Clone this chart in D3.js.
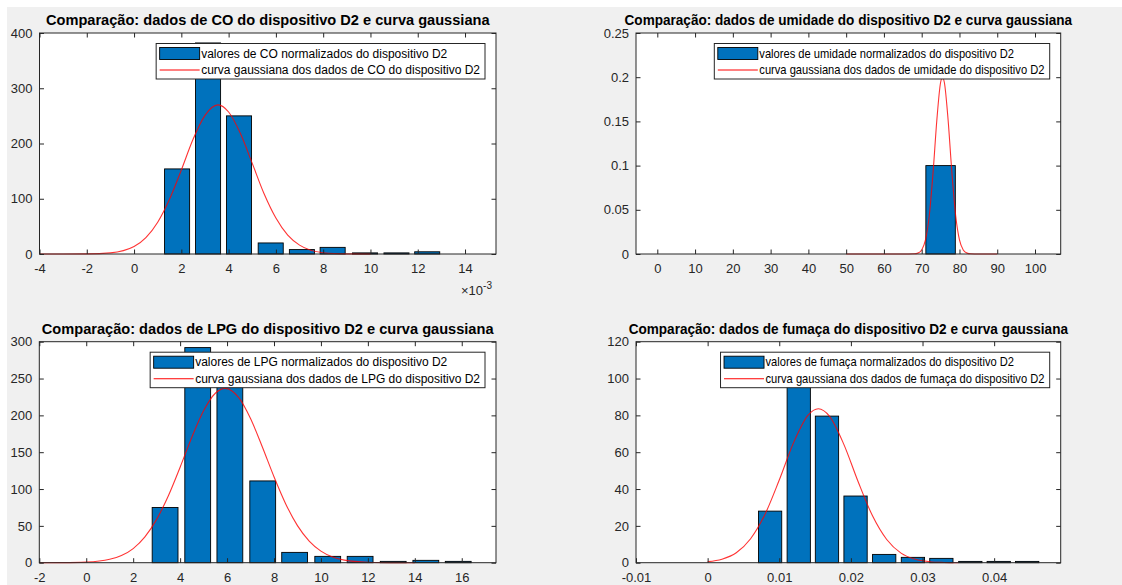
<!DOCTYPE html>
<html>
<head>
<meta charset="utf-8">
<script src="https://cdn.jsdelivr.net/npm/d3@7"></script>
<style>
  body { margin: 0; background: #fff; }
  svg { display: block; font-family: "Liberation Sans", Arial, Helvetica, sans-serif; }
</style>
</head>
<body>
<svg id="chart" width="1122" height="585"></svg>
<script>
// ---- data ----
// CO (x values in units of 1e-3)
const coBins = [1.82, 3.13, 4.44, 5.78, 7.1, 8.4, 9.77, 11.1, 12.4]
const coCounts = [154, 382, 250, 20, 8, 12, 2, 2, 4]
const coCurveX = [-4, -3, -2, -1, 0, 0.5, 1, 1.5, 2, 2.5, 3, 3.55, 4, 4.5, 5, 5.5, 6, 6.5, 7, 8, 9, 10]
const coCurveY = [0, 0, 0.2, 2, 13.4, 29.5, 57.5, 99, 152, 208, 251, 270, 257, 218, 164, 109, 65, 34, 16, 2.4, 0.3, 0]
const coBarWidth = 1.06
const coXTicks = [-4, -2, 0, 2, 4, 6, 8, 10, 12, 14]
const coYTicks = [0, 100, 200, 300, 400]

// umidade
const humBins = [75]
const humCounts = [0.1]
const humCurveX = [50, 60, 65, 68, 69, 70, 71, 72, 73, 74, 75, 75.5, 76, 77, 78, 79, 80, 81, 82, 83, 85, 90]
const humCurveY = [0, 0, 0, 0.0002, 0.001, 0.0046, 0.0159, 0.0433, 0.0916, 0.151, 0.194, 0.2, 0.194, 0.151, 0.0916, 0.0433, 0.0159, 0.0046, 0.001, 0.0002, 0, 0]
const humBarWidth = 7.8
const humXTicks = [0, 10, 20, 30, 40, 50, 60, 70, 80, 90, 100]
const humYTicks = [0, 0.05, 0.1, 0.15, 0.2, 0.25]

// LPG
const lpgBins = [3.36, 4.75, 6.12, 7.52, 8.88, 10.29, 11.67, 13.08, 14.47, 15.85]
const lpgCounts = [75, 292, 262, 111, 14, 8.6, 8.6, 1.8, 3.2, 1.8]
const lpgCurveX = [-2, -1, 0, 1, 1.5, 2, 2.5, 3, 3.5, 4, 4.5, 5, 5.5, 5.92, 6.5, 7, 7.5, 8, 8.5, 9, 9.5, 10, 10.5, 11, 12, 13, 14]
const lpgCurveY = [0, 0.1, 0.8, 4.6, 9.7, 19.2, 35, 58.8, 90.9, 129.6, 170.4, 206.2, 230, 236.7, 224, 195.7, 157.4, 116.7, 79.8, 50.3, 29.3, 15.7, 7.7, 3.5, 0.6, 0.1, 0]
const lpgBarWidth = 1.1
const lpgXTicks = [-2, 0, 2, 4, 6, 8, 10, 12, 14, 16]
const lpgYTicks = [0, 50, 100, 150, 200, 250, 300]

// fumaça
const fumBins = [0.00872, 0.01272, 0.01666, 0.02065, 0.02465, 0.02866, 0.03263, 0.03667, 0.04064, 0.04461]
const fumCounts = [28, 100, 79.6, 36.2, 4.5, 2.9, 2.35, 0.7, 0.7, 0.7]
const fumCurveX = [0, 0.002, 0.004, 0.006, 0.008, 0.010, 0.012, 0.014, 0.01546, 0.017, 0.019, 0.021, 0.023, 0.025, 0.027, 0.029, 0.031, 0.033, 0.035]
const fumCurveY = [0.58, 1.92, 5.4, 13.0, 26.2, 44.9, 65.2, 80.0, 83.6, 79.6, 64.4, 44.1, 25.6, 12.6, 5.2, 1.84, 0.55, 0.14, 0]
const fumBarWidth = 0.00325
const fumXTicks = [-0.01, 0, 0.01, 0.02, 0.03, 0.04]
const fumYTicks = [0, 20, 40, 60, 80, 100, 120]

const svg = d3.select("#chart")
const axisColor = "#262626"
const tickLen = 4.5

// grey figure area (small white strip at top/left like the capture)
svg.append("rect").attr("x", 7).attr("y", 7).attr("width", 1115).attr("height", 578).attr("fill", "#f0f0f0")

const fmt = d => String(+d.toFixed(4))

function drawPanel(p) {
  const x = d3.scaleLinear().domain(p.xDomain).range([p.left, p.right])
  const y = d3.scaleLinear().domain(p.yDomain).range([p.bottom, p.top])
  const sq = p.squeeze || 1   // right column texts are rendered narrower in the capture
  const g = svg.append("g")

  g.append("rect")
    .attr("x", p.left).attr("y", p.top)
    .attr("width", p.right - p.left).attr("height", p.bottom - p.top)
    .attr("fill", "#fff")

  // histogram bars
  g.append("g").selectAll("rect")
    .data(p.bins.map((b, i) => ({ b: b, v: p.counts[i] })))
    .join("rect")
    .attr("x", d => x(d.b - p.barWidth / 2))
    .attr("width", d => x(d.b + p.barWidth / 2) - x(d.b - p.barWidth / 2))
    .attr("y", d => y(d.v))
    .attr("height", d => y(0) - y(d.v))
    .attr("fill", "#0072bd")
    .attr("stroke", "#000")
    .attr("stroke-width", 0.9)

  // gaussian curve
  const line = d3.line().x(d => x(d[0])).y(d => y(d[1])).curve(d3.curveMonotoneX)
  g.append("path")
    .datum(p.curveX.map((cx, i) => [cx, p.curveY[i]]))
    .attr("d", line)
    .attr("fill", "none")
    .attr("stroke", "#ff0000")
    .attr("stroke-opacity", 0.8)
    .attr("stroke-width", 1.1)

  // axes: ticks inward on all four sides
  const styleAxis = sel => {
    sel.select(".domain").remove()
    sel.selectAll(".tick line").attr("stroke", axisColor)
    sel.selectAll(".tick text").attr("fill", axisColor).attr("font-size", "13px")
      .attr("font-family", "Liberation Sans, Arial, sans-serif")
  }
  g.append("g").attr("transform", `translate(0,${p.bottom})`)
    .call(d3.axisBottom(x).tickValues(p.xTicks).tickFormat(fmt).tickSize(-tickLen).tickPadding(10))
    .call(styleAxis)
  g.append("g").attr("transform", `translate(0,${p.top})`)
    .call(d3.axisTop(x).tickValues(p.xTicks).tickFormat("").tickSize(-tickLen))
    .call(styleAxis)
  g.append("g").attr("transform", `translate(${p.left},0)`)
    .call(d3.axisLeft(y).tickValues(p.yTicks).tickFormat(fmt).tickSize(-tickLen).tickPadding(7))
    .call(styleAxis)
  g.append("g").attr("transform", `translate(${p.right},0)`)
    .call(d3.axisRight(y).tickValues(p.yTicks).tickFormat("").tickSize(-tickLen))
    .call(styleAxis)

  g.append("rect")
    .attr("x", p.left).attr("y", p.top)
    .attr("width", p.right - p.left).attr("height", p.bottom - p.top)
    .attr("fill", "none").attr("stroke", axisColor).attr("stroke-width", 1)

  // title
  g.append("text")
    .attr("transform", `translate(${(p.left + p.right) / 2},${p.top - 8}) scale(${sq},1)`)
    .attr("text-anchor", "middle")
    .attr("font-size", "14.6px").attr("font-weight", "bold").attr("fill", "#000")
    .text(p.title)

  // legend
  const lg = g.append("g")
  const box = lg.append("rect").attr("fill", "#fff").attr("stroke", axisColor).attr("stroke-width", 1)
  const t1 = lg.append("text").attr("font-size", "12px").attr("fill", "#000").attr("dy", "0.35em").text(p.legend[0])
  const t2 = lg.append("text").attr("font-size", "12px").attr("fill", "#000").attr("dy", "0.35em").text(p.legend[1])
  const tw = sq * Math.max(t1.node().getComputedTextLength(), t2.node().getComputedTextLength())
  const lw = 45 + tw + 5
  const lx = p.right - 11 - lw
  const ly = p.top + 10.5
  box.attr("x", lx).attr("y", ly).attr("width", lw).attr("height", 35.5)
  lg.append("rect").attr("x", lx + 3.5).attr("y", ly + 4).attr("width", 40).attr("height", 12)
    .attr("fill", "#0072bd").attr("stroke", "#000").attr("stroke-width", 0.9)
  lg.append("line").attr("x1", lx + 3.5).attr("x2", lx + 43.5).attr("y1", ly + 26.5).attr("y2", ly + 26.5)
    .attr("stroke", "#ff0000").attr("stroke-width", 1.1)
  t1.attr("transform", `translate(${lx + 45},${ly + 10}) scale(${sq},1)`)
  t2.attr("transform", `translate(${lx + 45},${ly + 26.5}) scale(${sq},1)`)

  if (p.exponent) {
    const ex = g.append("text").attr("x", p.right - 35).attr("y", p.bottom + 41)
      .attr("font-size", "13px").attr("fill", axisColor)
    ex.append("tspan").text("×10")
    ex.append("tspan").attr("font-size", "10px").attr("dy", "-6").text(p.exponent)
  }
}

drawPanel({
  left: 39.5, right: 496, top: 33, bottom: 254,
  xDomain: [-4, 15.31], yDomain: [0, 400],
  bins: coBins, counts: coCounts, barWidth: coBarWidth,
  curveX: coCurveX, curveY: coCurveY,
  xTicks: coXTicks, yTicks: coYTicks, exponent: "-3",
  title: "Comparação: dados de CO do dispositivo D2 e curva gaussiana",
  legend: ["valores de CO normalizados do dispositivo D2", "curva gaussiana dos dados de CO do dispositivo D2"]
})

drawPanel({
  left: 636, right: 1060.7, top: 33, bottom: 254, squeeze: 0.93,
  xDomain: [-5.64, 106.8], yDomain: [0, 0.25],
  bins: humBins, counts: humCounts, barWidth: humBarWidth,
  curveX: humCurveX, curveY: humCurveY,
  xTicks: humXTicks, yTicks: humYTicks,
  title: "Comparação: dados de umidade do dispositivo D2 e curva gaussiana",
  legend: ["valores de umidade normalizados do dispositivo D2", "curva gaussiana dos dados de umidade do dispositivo D2"]
})

drawPanel({
  left: 39.3, right: 496, top: 341.7, bottom: 562.7,
  xDomain: [-2, 17.46], yDomain: [0, 300],
  bins: lpgBins, counts: lpgCounts, barWidth: lpgBarWidth,
  curveX: lpgCurveX, curveY: lpgCurveY,
  xTicks: lpgXTicks, yTicks: lpgYTicks,
  title: "Comparação: dados de LPG do dispositivo D2 e curva gaussiana",
  legend: ["valores de LPG normalizados do dispositivo D2", "curva gaussiana dos dados de LPG do dispositivo D2"]
})

drawPanel({
  left: 636, right: 1060.7, top: 341.7, bottom: 562.7, squeeze: 0.93,
  xDomain: [-0.01, 0.04929], yDomain: [0, 120],
  bins: fumBins, counts: fumCounts, barWidth: fumBarWidth,
  curveX: fumCurveX, curveY: fumCurveY,
  xTicks: fumXTicks, yTicks: fumYTicks,
  title: "Comparação: dados de fumaça do dispositivo D2 e curva gaussiana",
  legend: ["valores de fumaça normalizados do dispositivo D2", "curva gaussiana dos dados de fumaça do dispositivo D2"]
})
</script>
</body>
</html>
